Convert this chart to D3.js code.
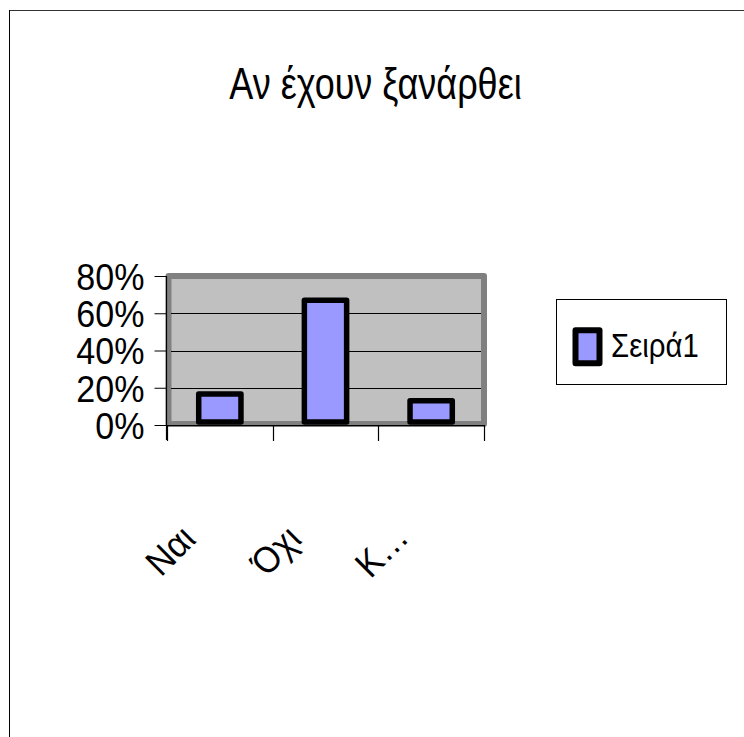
<!DOCTYPE html>
<html>
<head>
<meta charset="utf-8">
<script src="https://cdn.jsdelivr.net/npm/d3@7"></script>
<style>
  html, body { margin: 0; padding: 0; background: #fff; }
  svg { display: block; }
  text { font-family: "Liberation Sans", Arial, sans-serif; fill: #000; }
</style>
</head>
<body>
<script>
const title = "Αν έχουν ξανάρθει";
const categories = ["Ναι", "Όχι", "Κ…"];
const seriesName = "Σειρά1";
const values = [0.167, 0.67, 0.13];
const yTicks = [0, 0.2, 0.4, 0.6, 0.8];

const W = 744, H = 737;
const svg = d3.select("body").append("svg").attr("width", W).attr("height", H);

// compress text horizontally (reference glyphs are narrow)
function squeeze(sel, f) {
  sel.each(function () {
    const len = this.getComputedTextLength();
    d3.select(this).attr("textLength", len * f).attr("lengthAdjust", "spacingAndGlyphs");
  });
}

// outer chart frame (only top/left visible)
svg.append("line").attr("x1", 9.5).attr("x2", W).attr("y1", 10.5).attr("y2", 10.5)
  .attr("stroke", "#333").attr("stroke-width", 1);
svg.append("line").attr("x1", 9.5).attr("x2", 9.5).attr("y1", 10).attr("y2", H)
  .attr("stroke", "#000").attr("stroke-width", 1);

// title
svg.append("text").attr("x", 375.5).attr("y", 99).attr("text-anchor", "middle")
  .attr("font-size", 45).text(title).call(squeeze, 0.8);

// scales
const plot = { left: 167, right: 484, top: 276, bottom: 425 };
const x = d3.scaleBand().domain(categories).range([plot.left, plot.right]).padding(0);
const y = d3.scaleLinear().domain([0, 0.8]).range([plot.bottom, plot.top]);

// plot area
svg.append("rect")
  .attr("x", plot.left + 1.5).attr("y", y(0.8))
  .attr("width", plot.right - plot.left - 1.5).attr("height", y(0) - y(0.8) - 1)
  .attr("fill", "#C0C0C0").attr("stroke", "#808080").attr("stroke-width", 6)
  .attr("stroke-linejoin", "round");

// gridlines
svg.append("g").selectAll("line").data(yTicks.filter(t => t > 0 && t < 0.8)).join("line")
  .attr("x1", plot.left + 4).attr("x2", plot.right - 3)
  .attr("y1", d => Math.round(y(d)) + 0.5).attr("y2", d => Math.round(y(d)) + 0.5)
  .attr("stroke", "#000").attr("stroke-width", 1);

// bars
const barW = x.bandwidth() * 0.4;
svg.append("g").selectAll("rect").data(values).join("rect")
  .attr("x", (d, i) => x(categories[i]) + x.bandwidth() / 2 - barW / 2)
  .attr("y", d => y(d))
  .attr("width", barW)
  .attr("height", d => y(0) - y(d) - 3)
  .attr("fill", "#9999FF").attr("stroke", "#000").attr("stroke-width", 5.5)
  .attr("stroke-linejoin", "round");

// y axis
const yAxis = d3.axisLeft(y).tickValues(yTicks).tickSize(12).tickFormat(d3.format(".0%"));
const gy = svg.append("g").attr("transform", `translate(${plot.left - 0.5},0)`).call(yAxis);
gy.select(".domain").remove();
gy.selectAll(".tick line").attr("stroke", "#000").attr("stroke-width", 1);
gy.selectAll(".tick text").attr("x", -22).attr("dy", "0.36em")
  .attr("font-size", 37).attr("font-family", "Liberation Sans, Arial, sans-serif")
  .attr("fill", "#000").call(squeeze, 0.92);
svg.append("line").attr("x1", plot.left - 0.5).attr("x2", plot.left - 0.5)
  .attr("y1", y(0.8)).attr("y2", plot.bottom + 15).attr("stroke", "#000").attr("stroke-width", 1.2);

// x axis
svg.append("line").attr("x1", plot.left - 0.5).attr("x2", plot.right + 1)
  .attr("y1", plot.bottom + 0.5).attr("y2", plot.bottom + 0.5).attr("stroke", "#000").attr("stroke-width", 1.2);
const bounds = categories.map(c => x(c)).concat([plot.right]);
svg.append("g").selectAll("line").data(bounds).join("line")
  .attr("x1", d => Math.round(d) + 0.5).attr("x2", d => Math.round(d) + 0.5)
  .attr("y1", plot.bottom).attr("y2", plot.bottom + 16)
  .attr("stroke", "#000").attr("stroke-width", 1.2);

// x labels rotated
const xl = svg.append("g").selectAll("text").data(categories).join("text")
  .attr("transform", d => `translate(${x(d) + x.bandwidth() / 2 - 50},550) rotate(-45)`)
  .attr("text-anchor", "middle").attr("dy", "0.36em")
  .attr("font-size", 37).text(d => d);
xl.call(squeeze, 0.92);

// legend
const lg = svg.append("g");
lg.append("rect").attr("x", 556.5).attr("y", 299.5).attr("width", 170).attr("height", 85)
  .attr("fill", "#fff").attr("stroke", "#000").attr("stroke-width", 1);
lg.append("rect").attr("x", 575.5).attr("y", 330.3).attr("width", 24).attr("height", 33)
  .attr("fill", "#9999FF").attr("stroke", "#000").attr("stroke-width", 6)
  .attr("stroke-linejoin", "round");
lg.append("text").attr("x", 611).attr("y", 356.7).attr("font-size", 33).text(seriesName)
  .call(squeeze, 0.89);
</script>
</body>
</html>
